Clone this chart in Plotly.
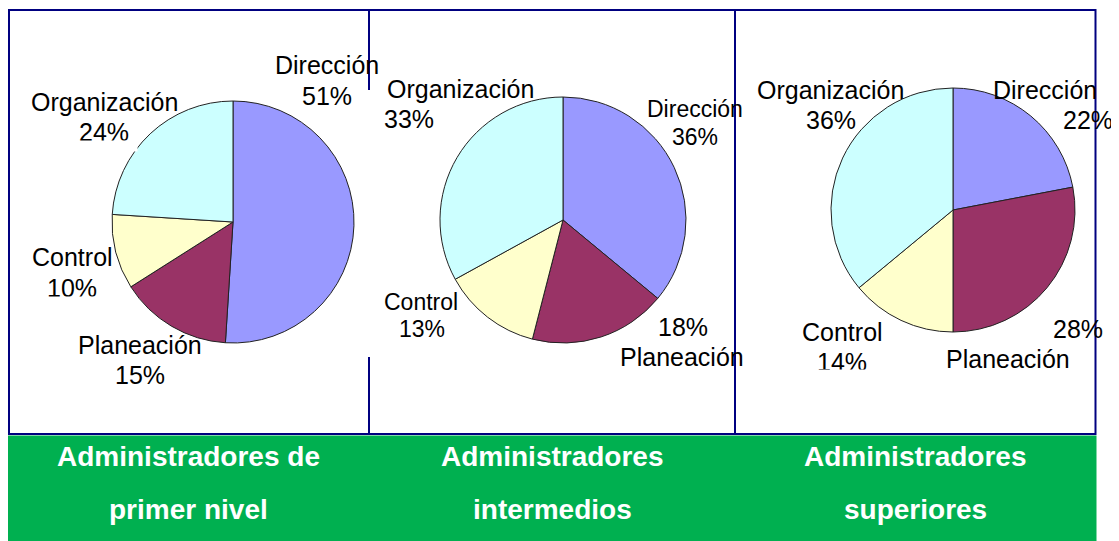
import plotly.graph_objects as go

# ---------------- data ----------------
categories = ["Dirección", "Planeación", "Control", "Organización"]
primer_nivel = [51, 15, 10, 24]
intermedios = [36, 18, 13, 33]
superiores = [22, 28, 14, 36]
panel_titles = [
    ["Administradores de", "primer nivel"],
    ["Administradores", "intermedios"],
    ["Administradores", "superiores"],
]

# ---------------- styles / layout ----------------
OFF = 8                      # browser default body margin
W, H = 1119 - OFF, 541 - OFF  # figure size so the page fills exactly
slice_colors = ["#9999FF", "#993366", "#FFFFCC", "#CCFFFF"]
navy = "#000080"
green = "#00B050"
font_family = "Arial, 'Liberation Sans', sans-serif"

# pie centre (page px) and radius (px)
pie_geom = [(233, 222, 121), (563, 220, 123), (953, 210, 122)]

# label positions in page px: (name_x, name_y, pct_x, pct_y, font_size) per category
label_pos = [
    [(327, 65, 327, 96, 25), (140, 345, 140, 375, 25), (72, 257, 72, 288, 25), (104, 102, 104, 132, 25)],
    [(695, 109, 695, 137, 23), (682, 357, 683, 327, 25), (421, 302, 422, 329, 23), (460, 89, 409, 119, 25)],
    [(1045, 90, 1088, 120, 25), (1008, 359, 1078, 329, 25), (842, 332, 842, 362, 25), (830, 90, 831, 120, 25)],
]
col_bounds = [8, 369, 735, 1096]
title_rows_y = [456, 509]
# white patches imitating the clipped label images of the original: (x0, y0, x1, y1)
clip_patches = [(70, 140, 136, 150), (45, 296, 105, 306), (790, 369, 1085, 385)]


def px(x):
    return (x - OFF) / W


def py(y):
    return 1 - (y - OFF) / H


fig = go.Figure()
series = [primer_nivel, intermedios, superiores]
for vals, (cx, cy, r) in zip(series, pie_geom):
    fig.add_trace(go.Pie(
        labels=categories,
        values=vals,
        sort=False,
        direction="clockwise",
        rotation=0,
        textinfo="none",
        hoverinfo="label+percent",
        marker=dict(colors=slice_colors, line=dict(color="#222222", width=1)),
        domain=dict(x=[px(cx - r), px(cx + r)], y=[py(cy + r), py(cy - r)]),
        showlegend=False,
    ))

annotations = []
for vals, positions in zip(series, label_pos):
    for cat, v, (nx, ny, qx, qy, fs) in zip(categories, vals, positions):
        f = dict(family=font_family, size=fs, color="black")
        annotations.append(dict(x=px(nx), y=py(ny), xref="paper", yref="paper", text=cat,
                                showarrow=False, xanchor="center", yanchor="middle", font=f))
        annotations.append(dict(x=px(qx), y=py(qy), xref="paper", yref="paper", text=f"{v}%",
                                showarrow=False, xanchor="center", yanchor="middle", font=f))

for (x0, y0, x1, y1) in clip_patches:
    annotations.append(dict(x=px(x0), y=py(y0), xref="paper", yref="paper", text=" ",
                            showarrow=False, xanchor="left", yanchor="top",
                            width=x1 - x0, height=y1 - y0, borderpad=0,
                            bgcolor="white", font=dict(size=4)))

for i, lines in enumerate(panel_titles):
    xc = (col_bounds[i] + col_bounds[i + 1]) / 2
    for line, ty in zip(lines, title_rows_y):
        annotations.append(dict(x=px(xc), y=py(ty), xref="paper", yref="paper", text=f"<b>{line}</b>",
                                showarrow=False, xanchor="center", yanchor="middle",
                                font=dict(family=font_family, size=28, color="white")))

shapes = [
    # green title band
    dict(type="rect", xref="paper", yref="paper", x0=px(8), x1=px(1096.5), y0=py(541), y1=py(435.5),
         fillcolor=green, line=dict(width=0), layer="below"),
    # outer box
    dict(type="rect", xref="paper", yref="paper", x0=px(9), x1=px(1095.5), y0=py(434), y1=py(10),
         line=dict(color=navy, width=2), fillcolor="rgba(0,0,0,0)", layer="below"),
    # dividers
    dict(type="line", xref="paper", yref="paper", x0=px(369), x1=px(369), y0=py(10), y1=py(90),
         line=dict(color=navy, width=2), layer="below"),
    dict(type="line", xref="paper", yref="paper", x0=px(369), x1=px(369), y0=py(357), y1=py(434),
         line=dict(color=navy, width=2), layer="below"),
    dict(type="line", xref="paper", yref="paper", x0=px(735), x1=px(735), y0=py(10), y1=py(434),
         line=dict(color=navy, width=2), layer="below"),
]

fig.update_layout(
    width=W, height=H,
    margin=dict(l=0, r=0, t=0, b=0),
    paper_bgcolor="white",
    plot_bgcolor="white",
    annotations=annotations,
    shapes=shapes,
)

fig.write_html("out.html", config={"displayModeBar": False})
